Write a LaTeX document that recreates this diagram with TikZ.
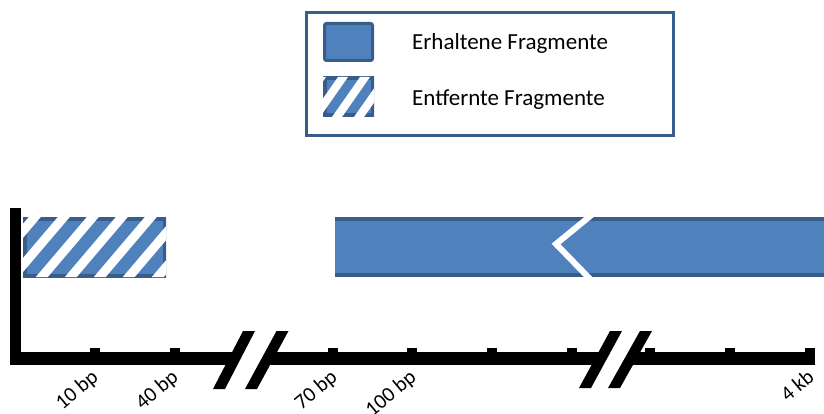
\documentclass[tikz,border=0pt]{standalone}
\usepackage{fontspec}
\setmainfont{Carlito}
\definecolor{fillb}{HTML}{4F81BD}
\definecolor{edgeb}{HTML}{385D8A}
\newcommand{\myhatch}[8]{%
  \begin{scope}
    \clip (#1,#2) rectangle (#3,#4);
    \fill[fillb] (#1,#2) rectangle (#3,#4);
    \draw[edgeb, line width=7pt] (#1,#2) rectangle (#3,#4);
    \foreach \k in {-3,...,6}{
      \fill[white] ({#8+\k*#6-#7/2},#2) -- ({#8+\k*#6+#7/2},#2)
        -- ({#8+\k*#6+#7/2-#5*(#4-#2)},#4) -- ({#8+\k*#6-#7/2-#5*(#4-#2)},#4) -- cycle;
    }
  \end{scope}}
\begin{document}
\begin{tikzpicture}[x=1pt,y=-1pt,
  legtext/.style={font=\fontsize{23}{23}\selectfont, anchor=base west, inner sep=0pt},
  box/.style={inner sep=0pt, outer sep=0pt}]
\useasboundingbox (0,0) rectangle (824,414);

% legend
\node[box, draw=edgeb, line width=3pt, minimum width=367pt, minimum height=123pt] (legend) at (489.5,74.5) {};
\node[box, fill=fillb, draw=edgeb, line width=3pt, rounded corners=2pt, minimum width=48pt, minimum height=37pt] (keepkey) at (348.5,42) {};
\node[box, minimum width=51pt, minimum height=40pt] (removekey) at (348.5,97) {};
\myhatch{323}{77}{374}{117}{0.7}{22}{10}{343}
\node[legtext] (keeptxt) at (412,50) {Erhaltene Fragmente};
\node[legtext] (removetxt) at (412,106) {Entfernte Fragmente};

% removed fragment (hatched)
\node[box, minimum width=143pt, minimum height=60pt, anchor=north west] (removed) at (23,217) {};
\myhatch{23}{217}{166}{277}{0.85}{29}{12}{63.8}

% kept fragment (solid)
\node[box, fill=fillb, minimum width=489pt, minimum height=60pt, anchor=north west] (kept) at (335,217) {};
\fill[edgeb] (335,217) rectangle (824,221);
\fill[edgeb] (335,273) rectangle (824,277);
\draw[white, line width=6pt, line join=miter] (592.7,214) -- (556,244) -- (591,280);

% axes
\fill (10,208) rectangle (21,365);
\fill (10,352) rectangle (815,365);
\foreach \x/\n in {95/t1,175/t2,333/t3,412/t4,492/t5,572/t6,650/t7,730/t8,810/t9}{
  \fill (\x-5,348) rectangle (\x+5,352);
  \coordinate (\n) at (\x,366);
}

% axis breaks
\fill[white] (249,331) -- (282.5,331) -- (251,389) -- (219,389) -- cycle;
\fill (243,331) -- (255,331) -- (225,389) -- (213,389) -- cycle;
\fill (276.5,331) -- (288.5,331) -- (257,389) -- (245,389) -- cycle;
\fill[white] (616,331) -- (646,331) -- (614,388) -- (585,388) -- cycle;
\fill (610,331) -- (622,331) -- (591,388) -- (579,388) -- cycle;
\fill (640,331) -- (652,331) -- (620,388) -- (608,388) -- cycle;

% labels
\begin{scope}[y=1pt, lbl/.style={font=\fontsize{21}{21}\selectfont, rotate=40, anchor=north east, inner sep=0pt}]
\node[lbl] (l1) at ([xshift=-5pt,yshift=-2pt]t1) {10 bp};
\node[lbl] (l2) at ([xshift=-5pt,yshift=-2pt]t2) {40 bp};
\node[lbl] (l3) at ([xshift=-4pt,yshift=-2pt]t3) {70 bp};
\node[lbl] (l4) at ([xshift=-4pt,yshift=-2pt]t4) {100 bp};
\node[lbl] (l9) at ([xshift=-4pt,yshift=-2pt]t9) {4 kb};
\end{scope}
\end{tikzpicture}
\end{document}
